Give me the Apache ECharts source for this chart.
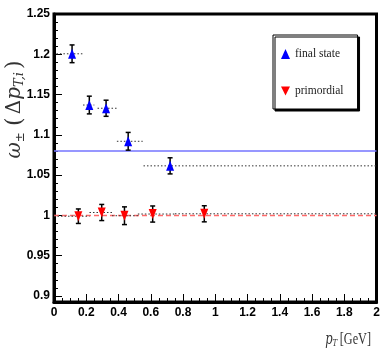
<!DOCTYPE html>
<html>
<head>
<meta charset="utf-8">
<script src="https://cdn.jsdelivr.net/npm/echarts@6/dist/echarts.min.js"></script>
<style>
html, body { margin: 0; padding: 0; background: #fff; }
#tu { width: 392px; height: 354px; }
</style>
</head>
<body>
<div id="tu"></div>
<script>
// final state points (blue, up triangles)
var finalX = [0.112, 0.219, 0.323, 0.46, 0.72];
var finalY = [1.2006, 1.137, 1.133, 1.092, 1.0615];
var finalErr = [0.011, 0.011, 0.010, 0.011, 0.010];
var finalLo = [0.015, 0.18, 0.27, 0.39, 0.555];
var finalHi = [0.176, 0.25, 0.39, 0.55, 2.0];
// primordial points (red, down triangles)
var primX = [0.151, 0.296, 0.437, 0.612, 0.932];
var primY = [0.999, 1.0036, 0.9996, 1.0017, 1.002];
var primErr = [0.009, 0.010, 0.011, 0.010, 0.010];
var primLo = [0, 0.22, 0.36, 0.52, 0.75];
var primHi = [0.22, 0.36, 0.52, 0.75, 2.0];
// reference levels
var finalLevel = 1.08;
var primLevel = 1.0;
// y ticks
var yMajor = [0.9, 0.95, 1, 1.05, 1.1, 1.15, 1.2, 1.25];

var yMinor = [];
for (var i = 0; i < yMajor.length - 1; i++) {
    for (var k = 1; k < 5; k++) {
        yMinor.push(Math.round((yMajor[i] + k * 0.01) * 1000) / 1000);
    }
}

function pts(xs, ys, es) {
    return xs.map(function (x, i) { return [x, ys[i], es ? es[i] : 0]; });
}
function bins(lo, hi, ys) {
    return lo.map(function (l, i) { return [l, hi[i], ys[i]]; });
}

function renderErr(params, api) {
    var top = api.coord([api.value(0), api.value(1) + api.value(2)]);
    var bot = api.coord([api.value(0), api.value(1) - api.value(2)]);
    var st = { stroke: '#000', lineWidth: 1.5 };
    return {
        type: 'group',
        children: [
            { type: 'line', shape: { x1: top[0], y1: top[1], x2: bot[0], y2: bot[1] }, style: st },
            { type: 'line', shape: { x1: top[0] - 2.5, y1: top[1], x2: top[0] + 2.5, y2: top[1] }, style: st },
            { type: 'line', shape: { x1: bot[0] - 2.5, y1: bot[1], x2: bot[0] + 2.5, y2: bot[1] }, style: st }
        ]
    };
}
function renderBin(params, api) {
    var a = api.coord([api.value(0), api.value(2)]);
    var b = api.coord([api.value(1), api.value(2)]);
    return {
        type: 'line',
        shape: { x1: a[0], y1: a[1], x2: b[0], y2: b[1] },
        style: { stroke: '#333', lineWidth: 1, lineDash: [1.5, 2] }
    };
}

var myChart = echarts.init(document.getElementById('tu'));

var tickFont = { fontFamily: 'Liberation Sans Narrow, Liberation Sans', fontWeight: 'bold', fontSize: 12, color: '#000' };

var option = {
    backgroundColor: '#fff',
    animation: false,
    grid: {
        left: 54, right: 15.5, top: 14, bottom: 52,
        show: true, borderColor: '#000', borderWidth: 3
    },
    xAxis: {
        type: 'value', min: 0, max: 2, interval: 0.2,
        axisLine: { show: true, lineStyle: { color: '#000', width: 3 } },
        axisTick: { show: true, inside: true, length: 8, lineStyle: { color: '#000', width: 1 } },
        minorTick: { show: true, splitNumber: 4, length: 4, lineStyle: { color: '#000', width: 1 } },
        axisLabel: Object.assign({ margin: 5 }, tickFont),
        splitLine: { show: false }
    },
    yAxis: [{
        type: 'value', min: 0.8925, max: 1.25, position: 'left', offset: 0,
        axisLine: { show: true, lineStyle: { color: '#000', width: 3 } },
        axisTick: { show: true, inside: true, length: 8, customValues: yMajor, lineStyle: { color: '#000', width: 1 } },
        axisLabel: Object.assign({ margin: 4, customValues: yMajor }, tickFont),
        splitLine: { show: false }
    }, {
        type: 'value', min: 0.8925, max: 1.25, position: 'left', offset: 0,
        axisLine: { show: false },
        axisTick: { show: true, inside: true, length: 4, customValues: yMinor, lineStyle: { color: '#000', width: 1 } },
        axisLabel: { show: false },
        splitLine: { show: false }
    }],
    legend: {
        data: ['final state', 'primordial'],
        orient: 'vertical', left: 273, top: 35,
        padding: [13, 14, 12, 8], itemGap: 25, itemWidth: 9, itemHeight: 10,
        backgroundColor: '#fff', borderColor: '#000', borderWidth: 1,
        shadowColor: '#000', shadowBlur: 0, shadowOffsetX: 2, shadowOffsetY: 2,
        textStyle: { fontFamily: 'Liberation Serif', fontSize: 11.5, color: '#222' }
    },
    graphic: [{
        type: 'text', x: 15, y: 108, rotation: Math.PI / 2,
        style: {
            text: '{w|ω}{pm|±} {par|(}{d|Δ}{w|p}{sub|T,i}{par|)}',
            align: 'center', verticalAlign: 'middle',
            rich: {
                w: { fontFamily: 'DejaVu Serif', fontStyle: 'italic', fontSize: 20, fill: '#333' },
                pm: { fontFamily: 'DejaVu Serif', fontSize: 12, fill: '#333', padding: [12, 0, 0, 0] },
                par: { fontFamily: 'DejaVu Serif', fontSize: 22, fill: '#333', padding: [0, 3, 0, 3] },
                d: { fontFamily: 'DejaVu Serif', fontSize: 20, fill: '#333' },
                sub: { fontFamily: 'DejaVu Serif', fontStyle: 'italic', fontSize: 13, fill: '#333', padding: [10, 0, 0, 0] }
            }
        }
    }, {
        type: 'text', x: 371, y: 340, scaleX: 0.72,
        style: {
            text: '{p|p}{s|T} {g|[GeV]}',
            align: 'right', verticalAlign: 'middle',
            rich: {
                p: { fontFamily: 'DejaVu Serif', fontStyle: 'italic', fontSize: 16, fill: '#333' },
                s: { fontFamily: 'DejaVu Serif', fontStyle: 'italic', fontSize: 10, fill: '#333', padding: [7, 0, 0, 0] },
                g: { fontFamily: 'Liberation Serif', fontSize: 17, fill: '#333' }
            }
        }
    }],
    series: [{
        type: 'line', name: 'finalLevel', data: [[0, finalLevel], [2, finalLevel]],
        symbol: 'none', lineStyle: { color: '#7474ff', width: 1.5 }, z: 1
    }, {
        type: 'line', name: 'primLevel', data: [[0, primLevel], [2, primLevel]],
        symbol: 'none', lineStyle: { color: '#ff6a6a', width: 1.5, type: [5, 3] }, z: 1
    }, {
        type: 'custom', name: 'finalBins', renderItem: renderBin,
        data: bins(finalLo, finalHi, finalY), z: 2
    }, {
        type: 'custom', name: 'primBins', renderItem: renderBin,
        data: bins(primLo, primHi, primY), z: 2
    }, {
        type: 'custom', name: 'finalErr', renderItem: renderErr,
        data: pts(finalX, finalY, finalErr), z: 3
    }, {
        type: 'custom', name: 'primErr', renderItem: renderErr,
        data: pts(primX, primY, primErr), z: 3
    }, {
        type: 'scatter', name: 'final state', data: pts(finalX, finalY),
        symbol: 'triangle', symbolSize: [8, 10],
        itemStyle: { color: '#0000ff', opacity: 1 }, z: 4
    }, {
        type: 'scatter', name: 'primordial', data: pts(primX, primY),
        symbol: 'path://M0,0L10,0L5,10Z', symbolSize: [8, 10],
        itemStyle: { color: '#ff0000', opacity: 1 }, z: 4
    }]
};

myChart.setOption(option);
</script>
</body>
</html>
